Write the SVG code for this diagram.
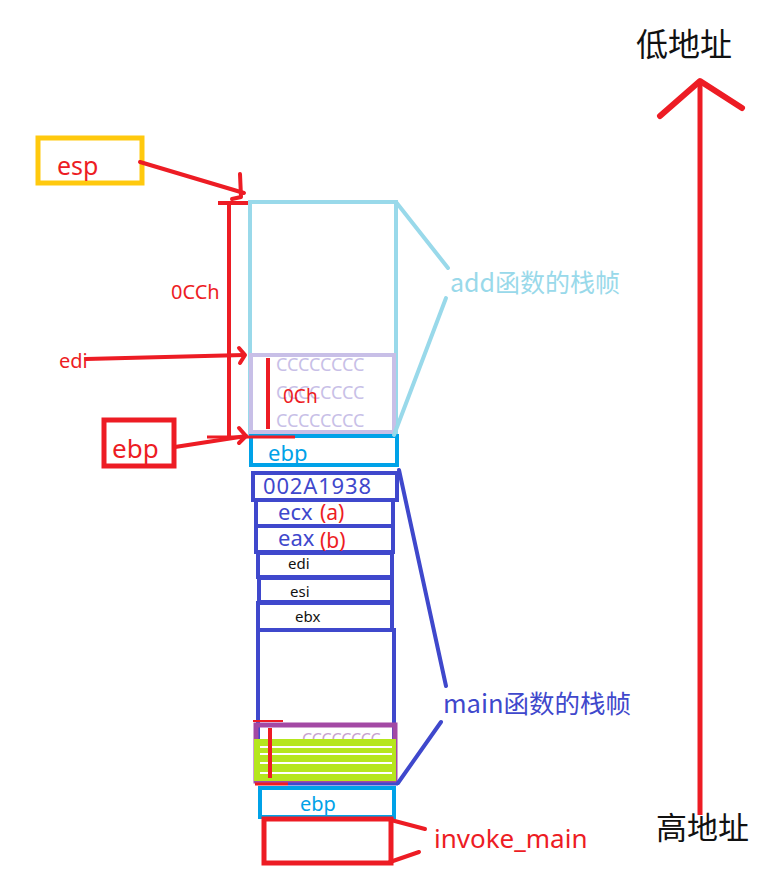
<svg xmlns="http://www.w3.org/2000/svg" width="772" height="896" viewBox="0 0 772 896">
<style>
text{font-family:"Noto Sans","Noto Sans CJK SC",sans-serif}
.cj{font-family:"Noto Sans CJK SC",sans-serif}
.red{fill:#ed1c24}
.blu{fill:#3f48cc}
.sky{fill:#00a2e8}
.k{fill:#111}
.rl{stroke:#ed1c24;fill:none;stroke-linecap:round;stroke-linejoin:round}
</style>
<rect width="772" height="896" fill="#fff"/>

<g id="esp-label">
<rect x="38" y="138" width="104" height="45" fill="none" stroke="#ffc90e" stroke-width="5"/>
<text x="57" y="175" font-size="25" class="red">esp</text>
</g>

<g id="add-frame">
<rect x="250" y="202" width="146" height="233" fill="none" stroke="#99d9ea" stroke-width="4"/>
</g>

<g id="cc-add">
<rect x="251" y="355" width="143" height="77" fill="none" stroke="#c8bfe7" stroke-width="4"/>
<text x="276" y="371" font-size="18" fill="#c8bfe7">CCCCCCCC</text>
<text x="276" y="399" font-size="18" fill="#c8bfe7">CCCCCCCC</text>
<text x="276" y="427" font-size="18" fill="#c8bfe7">CCCCCCCC</text>
<line x1="268" y1="358" x2="268" y2="429" stroke="#ed1c24" stroke-width="4"/>
<text x="283" y="403" font-size="19" class="red">0Ch</text>
</g>

<g id="add-label">
<text x="450" y="292" font-size="25" fill="#99d9ea" class="cj">add函数的栈帧</text>
</g>

<g id="ebp-add">
<rect x="251" y="436" width="146" height="29" fill="none" stroke="#00a2e8" stroke-width="4"/>
<text x="268" y="461" font-size="22" class="sky">ebp</text>
</g>

<g id="ret-addr">
<rect x="253" y="473" width="144" height="27" fill="none" stroke="#3f48cc" stroke-width="4"/>
<text x="263" y="494" font-size="22" class="blu" textLength="108">002A1938</text>
</g>

<g id="ecx">
<rect x="256" y="500" width="137" height="26" fill="none" stroke="#3f48cc" stroke-width="4"/>
<text x="278" y="520" font-size="22" class="blu">ecx</text>
<text x="320" y="520" font-size="21" class="red">(a)</text>
</g>

<g id="eax">
<rect x="256" y="526" width="137" height="26" fill="none" stroke="#3f48cc" stroke-width="4"/>
<text x="278" y="546" font-size="22" class="blu">eax</text>
<text x="320" y="548" font-size="21" class="red">(b)</text>
</g>

<g id="edi">
<rect x="258" y="553" width="134" height="24" fill="none" stroke="#3f48cc" stroke-width="4"/>
<text x="288" y="569" font-size="15" class="k">edi</text>
</g>

<g id="esi">
<rect x="259" y="578" width="133" height="24" fill="none" stroke="#3f48cc" stroke-width="4"/>
<text x="290" y="597" font-size="15" class="k">esi</text>
</g>

<g id="ebx">
<rect x="258" y="603" width="134" height="27" fill="none" stroke="#3f48cc" stroke-width="4"/>
<text x="295" y="622" font-size="15" class="k">ebx</text>
</g>

<g id="main-locals">
<rect x="258" y="630" width="136" height="153" fill="none" stroke="#3f48cc" stroke-width="4"/>
</g>

<g id="cc-main">
<rect x="256" y="725" width="139" height="56" fill="none" stroke="#a349a4" stroke-width="5"/>
<text x="302" y="745" font-size="16" fill="#c8a2d0">CCCCCCCC</text>
<rect x="254" y="739" width="142" height="42" fill="#b5e61d"/>
<line x1="260" y1="747" x2="392" y2="747" stroke="#fff" stroke-width="2"/>
<line x1="260" y1="754" x2="392" y2="754" stroke="#fff" stroke-width="2"/>
<line x1="260" y1="763" x2="392" y2="763" stroke="#fff" stroke-width="2"/>
<line x1="260" y1="773" x2="392" y2="773" stroke="#fff" stroke-width="2"/>
<line x1="270" y1="728" x2="270" y2="778" stroke="#ed1c24" stroke-width="4"/>
<line x1="253" y1="721" x2="283" y2="721" stroke="#ed1c24" stroke-width="2"/>
<line x1="255" y1="784" x2="288" y2="784" stroke="#ed1c24" stroke-width="3"/>
<line x1="288" y1="784" x2="398" y2="784" stroke="#3f48cc" stroke-width="3"/>
</g>

<g id="ebp-main">
<rect x="260" y="788" width="134" height="29" fill="none" stroke="#00a2e8" stroke-width="4"/>
<text x="300" y="811" font-size="20" class="sky">ebp</text>
</g>

<g id="invoke-main-box">
<rect x="264" y="819" width="127" height="44" fill="none" stroke="#ed1c24" stroke-width="5"/>
</g>

<g id="invoke-main-label">
<text x="434" y="848" font-size="26" class="red">invoke_main</text>
</g>

<g id="main-label">
<text x="443" y="713" font-size="25.5" class="blu cj">main函数的栈帧</text>
</g>

<g id="ebp-label">
<rect x="104" y="420" width="70" height="46" fill="none" stroke="#ed1c24" stroke-width="5"/>
<text x="112" y="458" font-size="26" class="red">ebp</text>
</g>

<g id="edi-label">
<text x="59" y="368" font-size="20" class="red">edi</text>
</g>

<g id="occh-label">
<text x="171" y="299" font-size="20" class="red">0CCh</text>
</g>

<g id="low-addr"><text x="636" y="56" font-size="32" class="k cj">低地址</text></g>
<g id="high-addr"><text x="656" y="839" font-size="31" class="k cj">高地址</text></g>

<g id="connectors">
<polyline class="rl" stroke-width="4" points="140,162 244,193"/>
<polyline class="rl" stroke-width="4" points="240,174 241,197 232,199"/>
<line x1="229" y1="203" x2="229" y2="437" stroke="#ed1c24" stroke-width="4"/>
<line x1="218" y1="203" x2="248" y2="203" stroke="#ed1c24" stroke-width="4"/>
<line x1="207" y1="437" x2="295" y2="437" stroke="#ed1c24" stroke-width="3"/>
<polyline class="rl" stroke-width="4" points="86,359 244,355"/>
<polyline class="rl" stroke-width="4" points="239,348 245,355 240,363"/>
<polyline class="rl" stroke-width="4" points="175,447 246,436"/>
<polyline class="rl" stroke-width="4" points="239,428 246,436 239,443"/>
<polyline fill="none" stroke="#99d9ea" stroke-width="4" stroke-linecap="round" points="396,202 448,268"/>
<polyline fill="none" stroke="#99d9ea" stroke-width="4" stroke-linecap="round" points="446,298 394,435"/>
<polyline fill="none" stroke="#3f48cc" stroke-width="4" stroke-linecap="round" points="399,470 446,686"/>
<polyline fill="none" stroke="#3f48cc" stroke-width="4" stroke-linecap="round" points="441,722 398,783"/>
<polyline class="rl" stroke-width="4" points="391,820 425,829"/>
<polyline class="rl" stroke-width="4" points="390,862 419,852"/>
<line x1="700" y1="815" x2="700" y2="82" stroke="#ed1c24" stroke-width="5"/>
<polyline class="rl" stroke-width="6" points="660,116 700,81 742,108"/>
</g>
</svg>
